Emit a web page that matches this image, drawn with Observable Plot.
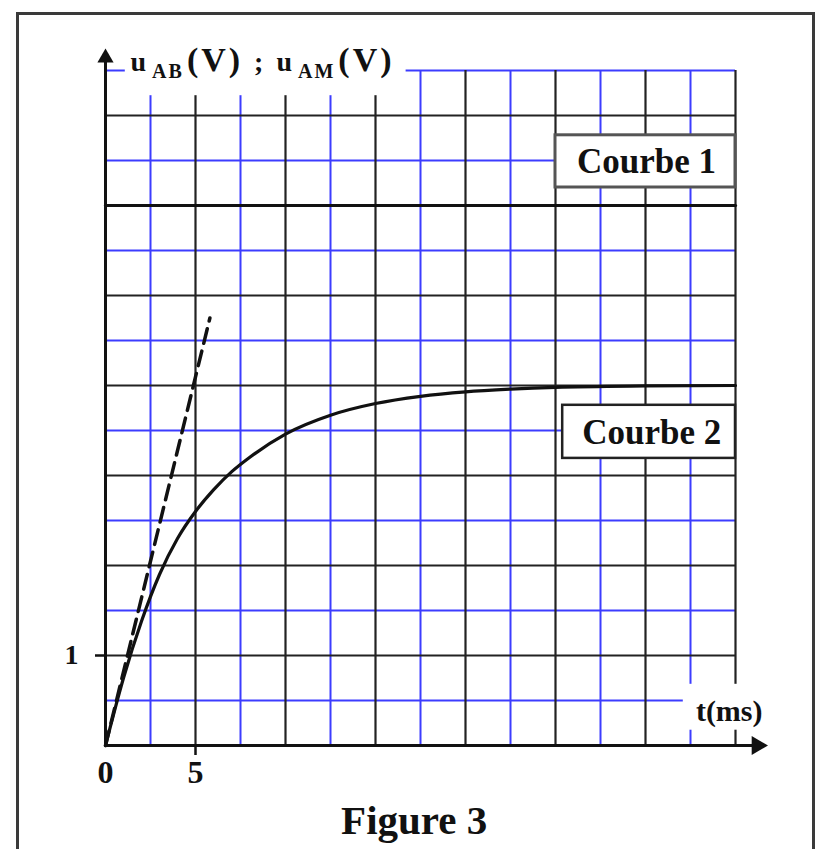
<!DOCTYPE html>
<html>
<head>
<meta charset="utf-8">
<script src="https://cdn.jsdelivr.net/npm/d3@7"></script>
<script src="https://cdn.jsdelivr.net/npm/@observablehq/plot@0.6"></script>
<style>
  body { margin: 0; background: white; }
  #chart { position: absolute; left: 0; top: 0; }
  #frame { position: absolute; left: 16px; top: 12px; width: 793px; height: 900px; border: 3px solid #3a3a3a; pointer-events: none; }
</style>
</head>
<body>
<div id="chart"></div>
<div id="frame"></div>
<script>
// ---- data ----
// Courbe 2 : u_AM(t) (charging curve)
const tMs  = [0, 1, 2, 3, 4, 5, 6, 7, 8, 10, 12.5, 15, 17.5, 20, 22.5, 25, 30, 35];
const uAM  = [0, 0.75, 1.38, 1.9, 2.3, 2.6, 2.84, 3.04, 3.2, 3.46, 3.67, 3.8, 3.88, 3.93, 3.96, 3.98, 3.995, 4.0];
// Courbe 1 : u_AB(t) constant
const tAB  = [0, 35];
const uAB  = [6, 6];
// dashed tangent at origin
const tangentT = [0, 5.8];
const tangentU = [0, 4.75];
// tick labels and grid
const xTickLabels = [0, 5];
const xTickMarks  = [5];
const yTickLabels = [1];
const gridT = [2.5, 5, 7.5, 10, 12.5, 15, 17.5, 20, 22.5, 25, 27.5, 30, 32.5, 35];
const gridU = [0.5, 1, 1.5, 2, 2.5, 3, 3.5, 4, 4.5, 5, 5.5, 6, 6.5, 7, 7.5];
const courbeLabels = ["Courbe 1", "Courbe 2"];
const xLabel = "t(ms)";
const figureLabel = "Figure 3";
const yLabelParts = [
  {s: "u"}, {s: "AB", sub: true}, {s: "(V)"}, {s: " ; "},
  {s: "u"}, {s: "AM", sub: true}, {s: "(V)"}
];
const yLabelText = yLabelParts.map(p => p.s).join("");

// ---- build tables ----
const curve2 = tMs.map((t, i) => ({t, u: uAM[i]}));
const curve1 = tAB.map((t, i) => ({t, u: uAB[i]}));
const tangent = tangentT.map((t, i) => ({t, u: tangentU[i]}));

const BLUE = "#3c3cff";
const BLACK = "#222";
const isBlueT = d => Math.round(d / 2.5) % 2 === 1;
const isBlueU = d => Math.round(d / 0.5) % 2 === 1;

const plot = Plot.plot({
  width: 818,
  height: 849,
  marginLeft: 105,
  marginRight: 83,
  marginTop: 70,
  marginBottom: 104,
  style: {fontFamily: "'Liberation Serif', 'Times New Roman', serif", background: "transparent", overflow: "visible"},
  x: {domain: [0, 35], axis: null},
  y: {domain: [0, 7.5], axis: null},
  marks: [
    // grid
    Plot.ruleX(gridT.filter(isBlueT), {y1: 0, y2: 7.5, stroke: BLUE, strokeWidth: 2}),
    Plot.ruleY(gridU.filter(isBlueU), {x1: 0, x2: 35, stroke: BLUE, strokeWidth: 2}),
    Plot.ruleX(gridT.filter(d => !isBlueT(d)), {y1: 0, y2: 7.5, stroke: BLACK, strokeWidth: 2.2}),
    Plot.ruleY(gridU.filter(d => !isBlueU(d)), {x1: 0, x2: 35, stroke: BLACK, strokeWidth: 2.2}),
    // label backgrounds
    Plot.rect([yLabelText], {x1: 1.1, x2: 16.7, y1: 7.22, y2: 8.0, fill: "white"}),
    Plot.rect([xLabel], {x1: 32.1, x2: 36.8, y1: 0.17, y2: 0.68, fill: "white"}),
    // curve label boxes
    Plot.rect([courbeLabels[0]], {x1: 25, x2: 35, y1: 6.2, y2: 6.78, fill: "white", stroke: "#555", strokeWidth: 3}),
    Plot.rect([courbeLabels[1]], {x1: 25.4, x2: 35, y1: 3.19, y2: 3.78, fill: "white", stroke: "#222", strokeWidth: 2.5}),
    // curves
    Plot.line(curve1, {x: "t", y: "u", stroke: "#111", strokeWidth: 3.2}),
    Plot.line(curve2, {x: "t", y: "u", stroke: "#111", strokeWidth: 3.2, curve: "monotone-x"}),
    Plot.line(tangent, {x: "t", y: "u", stroke: "#111", strokeWidth: 3.5, strokeDasharray: "15,8"}),
    // axes
    Plot.ruleY([0], {x1: 0, x2: 36.1, stroke: "#111", strokeWidth: 3}),
    Plot.ruleX([0], {y1: 0, y2: 7.62, stroke: "#111", strokeWidth: 3}),
    Plot.dot([{t: 36.2, u: 0}], {x: "t", y: "u", symbol: "triangle", r: 7, fill: "#111", rotate: 90}),
    Plot.dot([{t: 0, u: 7.64}], {x: "t", y: "u", symbol: "triangle", r: 6, fill: "#111"}),
    Plot.axisX({ticks: xTickMarks, tickSize: 10, stroke: "#111", strokeWidth: 2.5, tickFormat: () => "", label: null}),
    Plot.axisX({ticks: xTickLabels, tickSize: 0, tickPadding: 15, fontSize: 32, fontWeight: "bold", fill: "#111", anchor: "bottom", label: null}),
    Plot.axisY({ticks: yTickLabels, tickSize: 10, tickPadding: 17, fontSize: 28, fontWeight: "bold", fill: "#111", stroke: "#111", strokeWidth: 2.5, anchor: "left", label: null}),
    // texts
    Plot.text([yLabelText], {x: 1.39, y: 7.49, text: d => d, textAnchor: "start", lineAnchor: "bottom", fontSize: 28, fontWeight: "bold", fill: "#111"}),
    Plot.text([courbeLabels[0]], {x: 30.05, y: 6.49, text: d => d, fontSize: 35, fontWeight: "bold", fill: "#111", letterSpacing: 1.5}),
    Plot.text([courbeLabels[1]], {x: 30.35, y: 3.48, text: d => d, fontSize: 35, fontWeight: "bold", fill: "#111", letterSpacing: 1.5}),
    Plot.text([xLabel], {x: 34.65, y: 0.38, text: d => d, fontSize: 30, fontWeight: "bold", fill: "#111", letterSpacing: 2.5}),
    Plot.text([figureLabel], {x: 17.15, y: -0.98, text: d => d, lineAnchor: "bottom", fontSize: 41, fontWeight: "bold", fill: "#111"})
  ]
});

// build subscripted y label
d3.select(plot).selectAll("text")
  .filter(function() { return this.textContent === yLabelText; })
  .each(function() {
    const el = d3.select(this);
    el.text(null);
    let wasSub = false;
    yLabelParts.forEach((p, i) => {
      const ts = el.append("tspan").text(p.s);
      if (p.sub) {
        ts.attr("font-size", 20).attr("letter-spacing", 2).attr("dy", 7).attr("dx", 6);
        wasSub = true;
      } else {
        if (p.s === "(V)") ts.attr("font-size", 34).attr("letter-spacing", 3);
        if (p.s === " ; ") ts.attr("dx", 4);
        if (i === 4) ts.attr("dx", 6);
        if (wasSub) { ts.attr("dy", -7).attr("dx", 3); wasSub = false; }
      }
    });
  });

document.getElementById("chart").appendChild(plot);
</script>
</body>
</html>
